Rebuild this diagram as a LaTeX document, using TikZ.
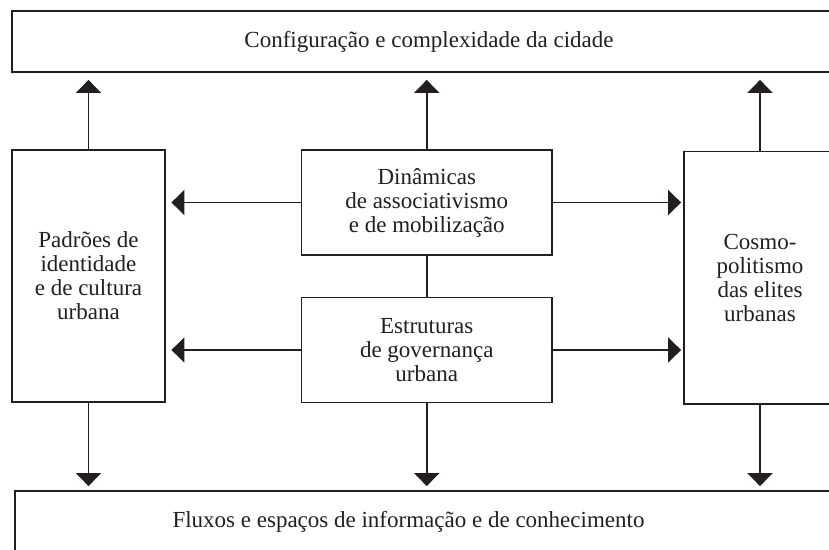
\documentclass[tikz,border=0pt]{standalone}
\usepackage{fontspec}
\setmainfont{Liberation Serif}
\usetikzlibrary{arrows.meta}
\definecolor{ink}{HTML}{231F20}
\begin{document}
\begin{tikzpicture}[x=1pt,y=-1pt,
  every node/.style={font=\fontsize{23}{24}\selectfont, text=ink},
  boxx/.style={draw=ink, line width=1.8pt, rectangle, inner sep=0pt, align=center},
  arr/.style={draw=ink, line width=1.8pt, -{Triangle[length=13pt,width=25pt]}},
  lnk/.style={draw=ink, line width=1.8pt}]
\useasboundingbox (0,0) rectangle (829,549);
\clip (0,0) rectangle (829,549);
% boxes
\node[boxx, minimum width=834pt, minimum height=61pt] (top) at (429,41.5) {Configuração e complexidade da cidade};
\node[boxx, minimum width=840pt, minimum height=80pt] (bot) at (435,531) {};
\node (bottxt) at (408.5,522) {Fluxos e espaços de informação e de conhecimento};
\node[boxx, minimum width=153pt, minimum height=252pt] (left) at (88.5,276) {Padrões de\\identidade\\e de cultura\\urbana};
\node[boxx, minimum width=152pt, minimum height=252.5pt] (right) at (760,277.75) {Cosmo-\\politismo\\das elites\\urbanas};
\node[boxx, minimum width=250.5pt, minimum height=105pt] (dyn) at (426.75,202.5) {Dinâmicas\\de associativismo\\e de mobilização};
\node[boxx, minimum width=250.5pt, minimum height=105pt] (gov) at (426.75,350) {Estruturas\\de governança\\urbana};
% vertical link
\draw[lnk] (dyn.south) -- (gov.north);
% up arrows
\draw[arr, shorten >=7pt] (left.north) -- (left.north |- top.south);
\draw[arr, shorten >=7pt] (dyn.north) -- (dyn.north |- top.south);
\draw[arr, shorten >=7pt] (right.north) -- (right.north |- top.south);
% down arrows
\draw[arr, shorten >=4pt] (left.south) -- (left.south |- bot.north);
\draw[arr, shorten >=4pt] (gov.south) -- (gov.south |- bot.north);
\draw[arr, shorten >=4pt] (right.south) -- (right.south |- bot.north);
% horizontal arrows
\draw[arr, shorten >=5.5pt] (dyn.west) -- (dyn.west -| left.east);
\draw[arr, shorten >=2pt] (dyn.east) -- (dyn.east -| right.west);
\draw[arr, shorten >=5.5pt] (gov.west) -- (gov.west -| left.east);
\draw[arr, shorten >=2pt] (gov.east) -- (gov.east -| right.west);
\end{tikzpicture}
\end{document}
